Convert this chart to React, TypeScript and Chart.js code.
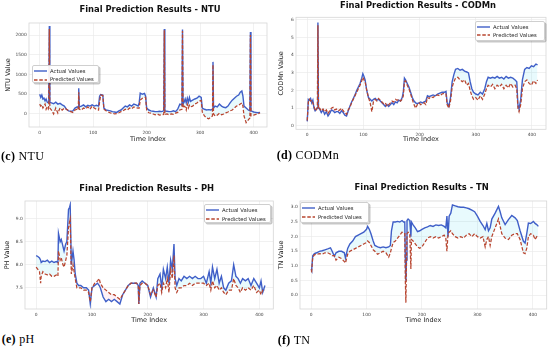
import React, { useEffect, useRef } from "react";
import { Chart, registerables } from "chart.js";

Chart.register(...registerables);

const SERIES_LABELS = ["Actual Values", "Predicted Values"];
const X_TICKS = [0, 100, 200, 300, 400];

// ---------- NTU ----------
const ntuIndex = [
  0, 2, 4, 6, 8, 10, 12, 14, 16, 17,
  18, 19, 22, 26, 30, 34, 38, 42, 46, 50,
  54, 58, 62, 66, 70, 72, 73, 74, 78, 82,
  86, 90, 94, 98, 102, 106, 110, 112, 114, 118,
  120, 124, 128, 132, 136, 140, 144, 148, 152, 156,
  160, 164, 168, 172, 176, 180, 184, 186, 188, 192,
  196, 198, 200, 204, 208, 212, 216, 220, 224, 228,
  232, 233, 234, 238, 242, 246, 250, 254, 258, 262,
  266, 267, 268, 270, 272, 274, 276, 278, 280, 282,
  286, 290, 294, 298, 302, 304, 308, 312, 316, 320,
  323, 324, 325, 328, 332, 336, 340, 344, 348, 352,
  356, 360, 364, 368, 372, 375, 378, 380, 382, 386,
  390, 393, 394, 395, 400, 404, 408, 412,
];
const ntuActual = [
  500, 420, 480, 380, 400, 330, 380, 300, 280, 300,
  2230, 300, 280, 260, 300, 250, 270, 230, 200, 120,
  80, 70, 80, 150, 180, 160, 650, 180, 200, 230,
  180, 220, 200, 230, 200, 220, 200, 450, 490, 480,
  150, 100, 90, 80, 60, 50, 40, 80, 100, 150,
  200, 180, 230, 200, 250, 230, 200, 280, 530, 500,
  520, 450, 150, 100, 80, 70, 60, 60, 70, 60,
  80, 2150, 80, 70, 60, 60, 80, 60, 120, 250,
  230, 2140, 250, 300, 380, 280, 400, 300, 420, 320,
  350, 380, 400, 450, 420, 150, 120, 100, 110, 100,
  120, 1320, 150, 200, 180, 250, 200, 170, 160, 200,
  280, 350, 400, 450, 480, 550, 580, 450, 200, 150,
  100, 80, 2080, 80, 50, 40, 30, 40,
];
const ntuPredicted = [
  250, 200, 230, 150, 200, 250, 120, 180, 130, 200,
  2150, 150, 100, 0, 150, 20, 150, 100, 150, 120,
  80, 60, 40, 100, 120, 100, 550, 120, 100, 150,
  130, 180, 120, 200, 150, 120, 100, 300, 480, 470,
  120, 80, 50, 30, 20, 0, 10, 30, 60, 80,
  120, 100, 150, 130, 180, 160, 150, 150, 350, 400,
  420, 420, 100, 30, 20, 0, -20, 0, -30, -20,
  -10, 2120, -10, 0, -20, 0, -10, 20, 40, 100,
  120, 2100, 150, 200, 180, 100, 250, 150, 220, 180,
  200, 250, 280, 330, 340, 50, -50, -100, -120, -80,
  -50, 1250, 0, -50, -30, 20, -20, 0, 30, 50,
  80, 100, 150, 200, 220, 250, 280, 200, -50, -220,
  -150, -100, 2000, -50, -30, -10, 0, 30,
];
const ntuYTicks = [0, 500, 1000, 1500, 2000];

// ---------- CODMn ----------
const codIndex = [
  0, 2, 4, 6, 8, 10, 12, 14, 16, 18,
  19, 20, 22, 25, 28, 31, 34, 37, 40, 43,
  46, 49, 52, 55, 58, 61, 64, 67, 70, 73,
  76, 79, 82, 85, 88, 91, 94, 97, 99, 101,
  103, 106, 109, 112, 115, 118, 121, 124, 127, 130,
  133, 136, 139, 142, 145, 148, 151, 154, 157, 160,
  163, 166, 169, 171, 173, 175, 178, 181, 184, 187,
  190, 193, 196, 199, 202, 205, 208, 211, 214, 217,
  220, 224, 228, 232, 236, 240, 244, 247, 249, 252,
  255, 258, 261, 264, 268, 272, 276, 280, 284, 287,
  290, 293, 296, 300, 304, 308, 312, 316, 319, 322,
  326, 330, 334, 338, 342, 346, 350, 354, 358, 362,
  366, 370, 373, 375, 377, 380, 383, 387, 391, 395,
  399, 403, 407, 410,
];
const codActual = [
  0.25, 1.5, 1.45, 1.55, 1.3, 1.45, 1.0, 0.85, 0.95, 1.0,
  5.85, 1.0, 0.95, 0.75, 0.9, 0.65, 0.8, 0.55, 0.7, 0.9,
  0.85, 0.75, 0.8, 0.8, 0.7, 0.85, 0.75, 0.6, 0.55, 0.85,
  1.1, 1.35, 1.55, 1.75, 2.0, 2.2, 2.4, 2.7, 2.95, 2.8,
  2.6, 2.0, 1.6, 1.5, 1.4, 1.5, 1.55, 1.45, 1.5, 1.4,
  1.3, 1.2, 1.1, 1.2, 1.1, 1.2, 1.3, 1.2, 1.35, 1.3,
  1.45, 1.4, 1.6, 1.9, 2.7, 2.6, 2.4, 2.2, 1.9, 1.6,
  1.4, 1.3, 1.25, 1.3, 1.35, 1.3, 1.35, 1.4, 1.7, 1.65,
  1.7, 1.75, 1.7, 1.8, 1.85, 1.9, 1.9, 1.95, 1.3, 1.1,
  1.6, 2.5, 2.9, 3.2, 3.25, 3.15, 3.2, 3.1, 3.05, 3.0,
  2.5, 2.1, 1.9, 1.8, 1.75, 1.9, 1.8, 2.1, 2.5, 2.75,
  2.7, 2.75, 2.7, 2.8, 2.7, 2.75, 2.65, 2.8, 2.7, 2.75,
  2.7, 2.6, 2.5, 1.2, 0.95, 1.5, 2.6, 3.2, 3.3, 3.25,
  3.4, 3.35, 3.5, 3.45,
];
const codPredicted = [
  0.3, 1.35, 1.5, 1.4, 1.45, 1.3, 1.1, 0.9, 0.85, 1.05,
  5.7, 0.95, 1.0, 0.85, 0.95, 0.8, 0.9, 0.7, 0.85, 1.0,
  1.05, 0.9, 0.95, 0.85, 0.9, 1.0, 0.85, 0.75, 0.65, 0.9,
  1.05, 1.3, 1.5, 1.7, 1.9, 2.1, 2.3, 2.55, 2.75, 2.6,
  2.5, 2.0, 1.6, 1.3, 0.8, 1.4, 1.5, 1.4, 1.55, 1.45,
  1.35, 1.25, 1.3, 1.1, 1.2, 1.3, 1.4, 1.35, 1.5, 1.45,
  1.5, 1.4, 1.5, 1.7, 2.5, 2.55, 2.3, 2.1, 1.8, 1.5,
  1.2, 1.0, 1.2, 1.3, 1.2, 1.25, 1.3, 1.2, 1.6, 1.55,
  1.65, 1.6, 1.7, 1.75, 1.7, 1.8, 1.85, 1.8, 1.2, 1.0,
  1.4, 2.2, 2.5, 2.7, 2.75, 2.6, 2.5, 2.6, 2.3, 2.4,
  2.0, 1.7, 1.5, 1.6, 1.45, 1.7, 1.5, 1.8, 2.1, 2.3,
  2.2, 2.35, 2.1, 2.3, 2.2, 2.35, 2.1, 2.3, 2.15, 2.4,
  2.2, 2.3, 2.1, 1.0, 0.8, 1.2, 2.1, 2.5, 2.6, 2.4,
  2.3, 2.55, 2.4, 2.6,
];
const codYTicks = [0, 1, 2, 3, 4, 5, 6];

// ---------- PH ----------
const phIndex = [
  0, 3, 6, 8, 9, 12, 16, 20, 24, 28,
  32, 36, 39, 40, 43, 45, 48, 50, 53, 55,
  58, 60, 61, 63, 66, 68, 70, 73, 76, 80,
  85, 90, 94, 97, 100, 105, 110, 113, 115, 120,
  125, 130, 135, 140, 145, 150, 155, 160, 165, 170,
  175, 180, 183, 184, 186, 190, 195, 200, 205, 210,
  215, 218, 222, 225, 228, 232, 235, 238, 241, 244,
  247, 249, 252, 256, 260, 265, 270, 275, 280, 285,
  290, 295, 300, 305, 310, 313, 316, 320, 324, 328,
  332, 336, 340, 345, 350, 354, 358, 362, 366, 370,
  375, 380, 385, 390, 395, 400, 403, 406, 410,
];
const phActual = [
  8.2, 8.18, 8.15, 8.1, 8.05, 8.08, 8.07, 8.1, 8.05, 8.08,
  8.05, 8.07, 8.05, 8.68, 8.5, 8.55, 8.4, 8.3, 8.45, 8.5,
  9.2, 9.25, 9.3, 8.0, 8.3, 8.1, 7.8, 7.6, 7.55, 7.55,
  7.5, 7.5, 7.45, 7.15, 7.5, 7.55, 7.6, 7.55, 7.5, 7.3,
  7.2, 7.25, 7.2, 7.25, 7.2, 7.15, 7.35, 7.45, 7.55, 7.6,
  7.6, 7.6, 7.55, 7.15, 7.6, 7.65, 7.6, 7.55, 7.3, 7.5,
  7.3, 7.7, 7.8, 7.5, 7.9, 7.7, 7.95, 7.6, 8.1, 7.9,
  8.45, 7.7, 7.55, 7.7, 7.65, 7.75, 7.7, 7.75, 7.7, 7.75,
  7.7, 7.7, 7.75, 7.6, 7.85, 7.6, 7.95, 7.7, 7.9, 7.6,
  7.75, 7.5, 7.45, 7.6, 7.65, 8.0, 7.75, 7.7, 7.6, 7.7,
  7.65, 7.7, 7.55, 7.7, 7.6, 7.5, 7.65, 7.4, 7.55,
];
const phPredicted = [
  7.95, 7.9, 7.85, 7.6, 7.75, 7.85, 7.8, 7.78, 7.8, 7.75,
  7.75, 7.78, 7.75, 8.3, 8.1, 8.15, 8.0, 7.95, 8.1, 8.2,
  8.8, 8.95, 9.0, 7.8, 8.0, 7.85, 7.7, 7.5, 7.5, 7.5,
  7.45, 7.45, 7.4, 7.2, 7.5, 7.6, 7.65, 7.7, 7.6, 7.5,
  7.45, 7.4, 7.35, 7.35, 7.3, 7.25, 7.35, 7.45, 7.55, 7.6,
  7.6, 7.6, 7.55, 7.15, 7.55, 7.6, 7.6, 7.55, 7.35, 7.45,
  7.3, 7.55, 7.6, 7.4, 7.6, 7.5, 7.7, 7.4, 7.9, 7.7,
  8.2, 7.5, 7.4, 7.5, 7.5, 7.55, 7.55, 7.6, 7.55, 7.6,
  7.6, 7.6, 7.6, 7.55, 7.6, 7.45, 7.65, 7.5, 7.55, 7.45,
  7.5, 7.4, 7.35, 7.45, 7.45, 7.7, 7.55, 7.5, 7.4, 7.5,
  7.45, 7.5, 7.45, 7.55, 7.4, 7.45, 7.35, 7.45, 7.45,
];
const phYTicks = [7.5, 8.0, 8.5, 9.0];

// ---------- TN ----------
const tnIndex = [
  0, 1, 3, 6, 10, 15, 20, 25, 30, 35,
  38, 42, 45, 50, 55, 60, 62, 66, 70, 75,
  80, 85, 90, 95, 100, 102, 105, 108, 112, 115,
  120, 125, 130, 135, 140, 143, 145, 148, 152, 156,
  160, 164, 167, 169, 170, 171, 172, 173, 175, 178,
  180, 181, 184, 188, 192, 196, 200, 205, 210, 215,
  220, 225, 230, 235, 240, 243, 245, 247, 249, 252,
  255, 260, 265, 270, 275, 280, 285, 290, 295, 300,
  305, 310, 314, 317, 320, 323, 326, 332, 338, 341,
  344, 350, 356, 362, 368, 372, 377, 383, 386, 389,
  392, 396, 401, 404, 407, 410,
];
const tnActual = [
  0.9, 0.85, 1.35, 1.42, 1.45, 1.5, 1.52, 1.55, 1.58, 1.62,
  1.5, 1.33, 1.45, 1.5, 1.5, 1.45, 1.27, 1.6, 1.75, 1.85,
  2.0, 2.05, 2.1, 2.15, 2.25, 2.35, 2.25, 2.1, 1.85, 1.7,
  1.65, 1.62, 1.65, 1.62, 1.65, 1.7, 2.2, 2.5, 2.5, 2.52,
  2.5, 2.55, 2.5, 2.5, 1.3, 0.5, 1.2, 2.55, 2.6, 2.55,
  2.0, 2.5, 2.4, 2.3, 2.17, 2.2, 2.25, 2.3, 2.33, 2.38,
  2.35, 2.4, 2.38, 2.4, 2.35, 2.3, 2.7, 2.0, 2.7, 2.8,
  3.08, 3.05, 3.02, 3.0, 3.0, 2.98, 2.95, 2.9, 2.85, 2.7,
  2.52, 2.38, 2.24, 2.45, 2.2, 2.3, 2.6, 2.8, 3.03, 2.85,
  2.64, 2.41, 2.58, 2.72, 2.64, 2.55, 2.2, 1.84, 1.78, 2.1,
  2.46, 2.45, 2.52, 2.45, 2.41, 2.35,
];
const tnPredicted = [
  0.85, 0.82, 1.3, 1.38, 1.4, 1.42, 1.4, 1.45, 1.45, 1.4,
  1.35, 1.35, 1.2, 1.3, 1.25, 1.15, 1.1, 1.4, 1.5, 1.55,
  1.6, 1.65, 1.7, 1.75, 1.8, 1.85, 1.8, 1.7, 1.55, 1.5,
  1.4, 1.45, 1.5, 1.45, 1.3, 1.45, 1.6, 1.8, 1.85, 1.95,
  2.05, 2.15, 2.1, 2.1, 0.5, -0.25, 1.0, 2.1, 2.15, 2.1,
  0.9, 1.9, 1.85, 1.75, 1.65, 1.6, 1.65, 1.8, 1.95, 2.0,
  1.95, 2.0, 1.95, 2.0, 2.05, 1.95, 1.5, 2.1, 2.15, 2.2,
  2.1, 2.0, 1.95, 2.0, 1.95, 2.05, 2.1, 2.0, 2.1, 2.0,
  1.95, 2.0, 1.65, 1.9, 2.0, 1.7, 2.0, 2.3, 2.6, 2.35,
  2.1, 1.95, 1.9, 2.05, 2.1, 2.1, 1.9, 1.45, 1.42, 1.6,
  2.0, 2.1, 2.05, 1.9, 2.0, 1.95,
];
const tnYTicks = [0.0, 0.5, 1.0, 1.5, 2.0, 2.5, 3.0];

// ---------- styling / layout ----------
const ACTUAL_COLOR = "#3f5fc8";
const PRED_COLOR = "#b8452f";
const FONT = "DejaVu Sans";
const AXIS_TITLE_SIZE = 6.5;
const TICK_SIZE = 4.4;

type Panel = {
  title: string;
  yLabel: string;
  capTag: string;
  capName: string;
  xs: number[];
  actual: number[];
  predicted: number[];
  yTicks: number[];
  decimals: number;
  yMin: number;
  yMax: number;
  box: { l: number; t: number; w: number; h: number };
  area: { l: number; t: number; r: number; b: number };
  yTitleX: number;
  xTitleY: number;
  titlePos: [number, number];
  legend: { l: number; t: number; w: number; h: number };
  capPos: [number, number];
};

const panels: Panel[] = [
  {
    title: "Final Prediction Results - NTU", yLabel: "NTU Value", capTag: "(c)", capName: "NTU",
    xs: ntuIndex, actual: ntuActual, predicted: ntuPredicted, yTicks: ntuYTicks, decimals: 0,
    yMin: -330, yMax: 2305,
    box: { l: 0, t: 0, w: 275, h: 146 }, area: { l: 29, t: 23, r: 267, b: 127 },
    yTitleX: 8.3, xTitleY: 139, titlePos: [150, 12.7],
    legend: { l: 32, t: 65, w: 67, h: 18 }, capPos: [1, 160.7],
  },
  {
    title: "Final Prediction Results - CODMn", yLabel: "CODMn Value", capTag: "(d)", capName: "CODMn",
    xs: codIndex, actual: codActual, predicted: codPredicted, yTicks: codYTicks, decimals: 0,
    yMin: -0.2, yMax: 6.15,
    box: { l: 275, t: 0, w: 275, h: 146 }, area: { l: 296, t: 17.3, r: 546, b: 129.3 },
    yTitleX: 281, xTitleY: 139.3, titlePos: [418, 8.3],
    legend: { l: 475, t: 20.7, w: 70, h: 20 }, capPos: [276.7, 160],
  },
  {
    title: "Final Prediction Results - PH", yLabel: "PH Value", capTag: "(e)", capName: "pH",
    xs: phIndex, actual: phActual, predicted: phPredicted, yTicks: phYTicks, decimals: 1,
    yMin: 7.04, yMax: 9.385,
    box: { l: 0, t: 175, w: 275, h: 153 }, area: { l: 25, t: 201, r: 273.3, b: 309 },
    yTitleX: 7.3, xTitleY: 320.7, titlePos: [146.7, 191.7],
    legend: { l: 204, t: 204.3, w: 66.7, h: 18.4 }, capPos: [1.7, 343.5],
  },
  {
    title: "Final Prediction Results - TN", yLabel: "TN Value", capTag: "(f)", capName: "TN",
    xs: tnIndex, actual: tnActual, predicted: tnPredicted, yTicks: tnYTicks, decimals: 1,
    yMin: -0.467, yMax: 3.215,
    box: { l: 275, t: 175, w: 275, h: 153 }, area: { l: 300, t: 201, r: 546.7, b: 309 },
    yTitleX: 281, xTitleY: 320.7, titlePos: [421.7, 191],
    legend: { l: 300, t: 202.3, w: 69.3, h: 20.4 }, capPos: [277.7, 344.5],
  },
];

const framePlugin = {
  id: "frame",
  afterDraw(chart: any) {
    const { ctx, chartArea: a } = chart;
    ctx.save();
    ctx.strokeStyle = "#d6d6d6";
    ctx.lineWidth = 0.8;
    ctx.strokeRect(a.left, a.top, a.right - a.left, a.bottom - a.top);
    ctx.restore();
  },
};

function PanelChart({ p }: { p: Panel }) {
  const ref = useRef<HTMLCanvasElement | null>(null);
  useEffect(() => {
    if (!ref.current) return;
    const lh = AXIS_TITLE_SIZE * 1.2;
    const { box, area } = p;
    const yWidth = area.l - box.l;
    const xHeight = box.t + box.h - area.b;
    const chart = new Chart(ref.current, {
      type: "line",
      data: {
        datasets: [
          {
            label: SERIES_LABELS[0],
            data: p.xs.map((x, i) => ({ x, y: p.actual[i] })),
            borderColor: ACTUAL_COLOR,
            borderWidth: 1.4,
            pointRadius: 0,
            tension: 0,
            order: 1,
            fill: { target: 1, above: "rgba(0,200,235,0.09)", below: "rgba(255,110,160,0.1)" },
          },
          {
            label: SERIES_LABELS[1],
            data: p.xs.map((x, i) => ({ x, y: p.predicted[i] })),
            borderColor: PRED_COLOR,
            borderWidth: 1.25,
            borderDash: [3.5, 1.8],
            pointRadius: 0,
            tension: 0,
            order: 0,
            fill: false,
          },
        ],
      },
      options: {
        responsive: false,
        animation: false,
        devicePixelRatio: 1,
        layout: {
          padding: { left: 0, top: area.t - box.t, right: box.l + box.w - area.r, bottom: 0 },
        },
        plugins: {
          legend: { display: false },
          tooltip: { enabled: false },
          title: { display: false },
        },
        scales: {
          x: {
            type: "linear",
            min: -20,
            max: 425,
            afterBuildTicks: (s: any) => { s.ticks = X_TICKS.map((v) => ({ value: v })); },
            afterFit: (s: any) => { s.height = xHeight; },
            ticks: {
              font: { family: FONT, size: TICK_SIZE },
              color: "#444",
              padding: 3,
              maxRotation: 0,
              callback: (v: any) => String(v),
            },
            grid: { color: "#e8e8e8", lineWidth: 0.6, drawTicks: false },
            border: { display: false },
            title: {
              display: true,
              text: "Time Index",
              font: { family: FONT, size: AXIS_TITLE_SIZE },
              color: "#222",
              padding: { top: 0, bottom: box.t + box.h - p.xTitleY - lh / 2 },
            },
          },
          y: {
            type: "linear",
            min: p.yMin,
            max: p.yMax,
            afterBuildTicks: (s: any) => { s.ticks = p.yTicks.map((v) => ({ value: v })); },
            afterFit: (s: any) => { s.width = yWidth; },
            ticks: {
              font: { family: FONT, size: TICK_SIZE },
              color: "#444",
              padding: 2.3,
              callback: (v: any) => Number(v).toFixed(p.decimals),
            },
            grid: { color: "#e8e8e8", lineWidth: 0.6, drawTicks: false },
            border: { display: false },
            title: {
              display: true,
              text: p.yLabel,
              font: { family: FONT, size: AXIS_TITLE_SIZE },
              color: "#222",
              padding: { top: p.yTitleX - box.l - lh / 2, bottom: 0 },
            },
          },
        },
      } as any,
      plugins: [framePlugin],
    });
    return () => chart.destroy();
  }, [p]);
  const { box } = p;
  return (
    <canvas
      ref={ref}
      width={box.w}
      height={box.h}
      style={{ position: "absolute", left: box.l, top: box.t, width: box.w, height: box.h }}
    />
  );
}

function Legend({ p }: { p: Panel }) {
  const { l, t, w, h } = p.legend;
  const fs = 5.3;
  const rows = [5, 13.5];
  return (
    <div
      style={{
        position: "absolute",
        left: l,
        top: t,
        width: w,
        height: h,
        background: "rgba(255,255,255,0.92)",
        border: "0.8px solid #cfcfcf",
        borderRadius: 2,
        boxShadow: "1.5px 1.5px 0 rgba(0,0,0,0.22)",
        boxSizing: "border-box",
      }}
    >
      {SERIES_LABELS.map((lab, i) => (
        <React.Fragment key={lab}>
          <svg
            width={13}
            height={4}
            style={{ position: "absolute", left: 1.3, top: rows[i] - 2 }}
          >
            <line
              x1={0}
              y1={2}
              x2={13}
              y2={2}
              stroke={i === 0 ? ACTUAL_COLOR : PRED_COLOR}
              strokeWidth={1.4}
              strokeDasharray={i === 0 ? undefined : "3.5 1.8"}
            />
          </svg>
          <div
            style={{
              position: "absolute",
              left: 17,
              top: rows[i] - fs * 0.6,
              fontFamily: FONT,
              fontSize: fs,
              lineHeight: `${fs * 1.2}px`,
              color: "#222",
              whiteSpace: "nowrap",
            }}
          >
            {lab}
          </div>
        </React.Fragment>
      ))}
    </div>
  );
}

function Title({ p }: { p: Panel }) {
  const fs = 8.4;
  const [cx, base] = p.titlePos;
  return (
    <div
      style={{
        position: "absolute",
        left: cx - 150,
        width: 300,
        top: base - 0.928 * fs,
        textAlign: "center",
        fontFamily: FONT,
        fontWeight: "bold",
        fontSize: fs,
        lineHeight: `${1.164 * fs}px`,
        color: "#111",
        whiteSpace: "nowrap",
      }}
    >
      {p.title}
    </div>
  );
}

function Caption({ p }: { p: Panel }) {
  const fs = 12;
  const [x, base] = p.capPos;
  return (
    <div
      style={{
        position: "absolute",
        left: x,
        top: base - 0.891 * fs,
        fontFamily: "'Liberation Serif', serif",
        fontSize: fs,
        lineHeight: `${1.107 * fs}px`,
        letterSpacing: 0.3,
        color: "#000",
        whiteSpace: "nowrap",
      }}
    >
      <b>{p.capTag}</b> {p.capName}
    </div>
  );
}

export default function App() {
  return (
    <div style={{ position: "absolute", left: 0, top: 0, width: 550, height: 349, background: "#fff", overflow: "hidden" }}>
      {panels.map((p) => (
        <React.Fragment key={p.title}>
          <PanelChart p={p} />
          <Title p={p} />
          <Legend p={p} />
          <Caption p={p} />
        </React.Fragment>
      ))}
    </div>
  );
}
